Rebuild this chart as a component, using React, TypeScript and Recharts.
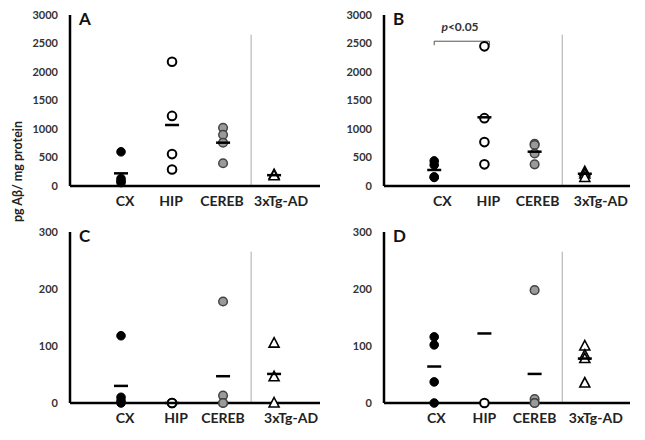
import { ScatterChart, Scatter, XAxis, YAxis, ReferenceLine } from "recharts";

const categories = ["CX", "HIP", "CEREB", "3xTg-AD"];

// individual samples per region (CX, HIP, CEREB, 3xTg-AD) + group means
const panelA = [
  [600, 130, 90, 60],
  [2180, 1230, 560, 290],
  [1020, 900, 760, 400],
  [200, 180],
];
const meansA = [222, 1070, 760, 190];

const panelB = [
  [440, 370, 160, 150],
  [2450, 1190, 770, 380],
  [740, 720, 570, 380],
  [250, 210, 150],
];
const meansB = [281, 1205, 602, 215];

const panelC = [
  [118, 10, 4, 0],
  [0, 0],
  [178, 13, 0, 0],
  [105, 46, 0],
];
const meansC = [30, 0, 47, 51];

const panelD = [
  [116, 102, 37, 0],
  [0],
  [198, 7, 0, 0],
  [100, 84, 78, 35],
];
const meansD = [64, 122, 51, 78];

const ticksTop = [0, 500, 1000, 1500, 2000, 2500, 3000];
const ticksBottom = [0, 100, 200, 300];

const FONT = "Lato, 'Open Sans', sans-serif";

const dot = (fill: string, stroke: string, sw: number) => (p: any) =>
  <circle cx={p.cx} cy={p.cy} r={4.3} fill={fill} stroke={stroke} strokeWidth={sw} />;

const tri = (p: any) => (
  <polygon
    points={`${p.cx},${p.cy - 5.5} ${p.cx + 5},${p.cy + 4} ${p.cx - 5},${p.cy + 4}`}
    fill="#fff" stroke="#000" strokeWidth={1.6}
  />
);

const dash = (p: any) => (
  <line x1={p.cx - 7} x2={p.cx + 7} y1={p.cy} y2={p.cy} stroke="#000" strokeWidth={2.5} />
);

const shapes = [dot("#000", "#000", 1), dot("#fff", "#000", 2), dot("#9a9a9a", "#444", 1.5), tri];

const CatTick = ({ x, y, payload, shift }: any) => (
  <text x={x + shift[payload.value - 1]} y={y} dy="0.71em" textAnchor="middle"
    fill="#222" fontSize={14} fontWeight={700} fontFamily={FONT}>
    {categories[payload.value - 1]}
  </text>
);

function Panel({ letter, groups, means, ticks, left, top, width, shift, bracket }: any) {
  const max = ticks[ticks.length - 1];
  return (
    <div style={{ position: "absolute", left, top }}>
      <ScatterChart width={width} height={215} margin={{ top: 15, right: 4, bottom: 0, left: 0 }}>
        <XAxis type="number" dataKey="x" domain={[0, 4.9]} ticks={[1, 2, 3, 4]} height={29}
          axisLine={{ stroke: "#000", strokeWidth: 2.5 }} tickLine={false} tickMargin={4}
          tick={<CatTick shift={shift} />} />
        <YAxis type="number" dataKey="y" domain={[0, max]} ticks={ticks} width={70}
          axisLine={{ stroke: "#000", strokeWidth: 2.5 }} tickLine={false} tickMargin={6}
          tick={{ fill: "#333", fontSize: 11, fontWeight: 700, fontFamily: FONT }} />
        <ReferenceLine segment={[{ x: 3.55, y: 0 }, { x: 3.55, y: max * 0.885 }]} stroke="#aaa" strokeWidth={1} />
        {bracket && (
          <ReferenceLine segment={[{ x: 1, y: 2540 }, { x: 2.1, y: 2540 }]} stroke="#555" strokeWidth={1} />
        )}
        {bracket && (
          <ReferenceLine segment={[{ x: 1, y: 2540 }, { x: 1, y: 2470 }]} stroke="#555" strokeWidth={1} />
        )}
        {bracket && (
          <ReferenceLine segment={[{ x: 2.1, y: 2540 }, { x: 2.1, y: 2470 }]} stroke="#555" strokeWidth={1} />
        )}
        {groups.map((vals: number[], i: number) => (
          <Scatter key={i} data={vals.map((v) => ({ x: i + 1, y: v }))} shape={shapes[i]} isAnimationActive={false} />
        ))}
        <Scatter data={means.map((m: number, i: number) => ({ x: i + 1, y: m }))} shape={dash} isAnimationActive={false} />
      </ScatterChart>
      <div style={{ position: "absolute", left: 79, top: 8, fontFamily: FONT, fontWeight: 700, fontSize: 17, color: "#111" }}>
        {letter}
      </div>
      {bracket && (
        <div style={{ position: "absolute", left: 126, top: 19, width: 40, textAlign: "center", fontFamily: FONT, fontWeight: 700, fontSize: 12, color: "#333" }}>
          <i>p</i>&lt;0.05
        </div>
      )}
    </div>
  );
}

export default function App() {
  return (
    <div style={{ position: "absolute", left: 0, top: 0, width: 645, height: 440, background: "#fff" }}>
      <div style={{ position: "absolute", left: -53, top: 164, width: 140, textAlign: "center", transform: "rotate(-90deg)",
        fontFamily: FONT, fontWeight: 700, fontSize: 12.5, color: "#222", whiteSpace: "nowrap" }}>
        pg Aβ/ mg protein
      </div>
      <Panel letter="A" groups={panelA} means={meansA} ticks={ticksTop} left={0} top={0} width={324} shift={[4, -1, -1, 7]} />
      <Panel letter="B" groups={panelB} means={meansB} ticks={ticksTop} left={314} top={0} width={320} shift={[8, 4, 3, 16]} bracket />
      <Panel letter="C" groups={panelC} means={meansC} ticks={ticksBottom} left={0} top={217} width={324} shift={[4, 4, 0, 17]} />
      <Panel letter="D" groups={panelD} means={meansD} ticks={ticksBottom} left={314} top={217} width={320} shift={[2, 0, 0, 11]} />
    </div>
  );
}
